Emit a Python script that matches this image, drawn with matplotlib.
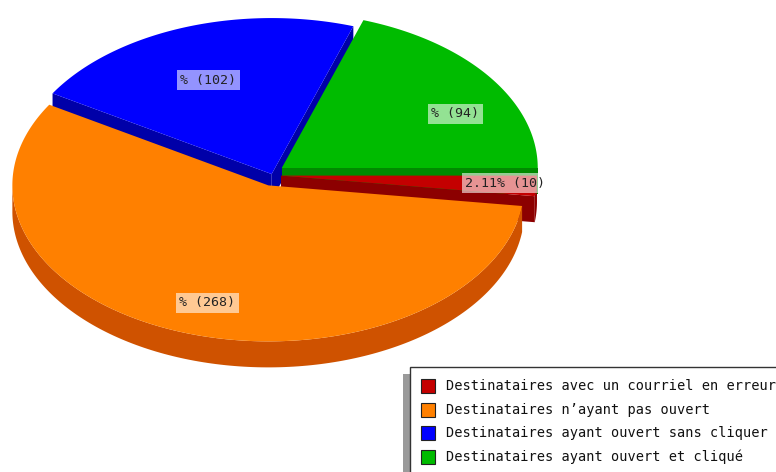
import numpy as np
import matplotlib.pyplot as plt
from matplotlib.patches import Polygon, Rectangle

# ---------------------------------------------------------------
# Data
# ---------------------------------------------------------------
legend_labels = ['Destinataires avec un courriel en erreur',
                 "Destinataires n\u2019ayant pas ouvert",
                 'Destinataires ayant ouvert sans cliquer',
                 'Destinataires ayant ouvert et cliqu\u00e9']
values = [10, 268, 102, 94]
slice_labels = ['2.11% (10)', '% (268)', '% (102)', '% (94)']

# ---------------------------------------------------------------
# Style / geometry (pixel space)
# ---------------------------------------------------------------
top_colors = ['#C40000', '#FF8000', '#0000FF', '#00BB00']
side_colors = ['#8C0000', '#CF5200', '#0000A8', '#008A00']
explode = [9, 11, 1, 12]     # explode distance per slice (px)
cx, cy = 272, 175            # pie centre
rx, ry = 256, 156            # ellipse radii
depth = 26                   # pie thickness
label_frac = 0.72
label_dy = 5
mono = 'DejaVu Sans Mono'

fig = plt.figure(figsize=(7.76, 4.72), dpi=100)
ax = fig.add_axes([0, 0, 1, 1])
ax.set_xlim(0, 776)
ax.set_ylim(472, 0)
ax.axis('off')


def pt(x0, y0, th):
    return x0 + rx * np.cos(th), y0 - ry * np.sin(th)


total = float(sum(values))
slices = []
a = 0.0
for i, v in enumerate(values):
    span = 2 * np.pi * v / total
    a_start, a_end = a, a - span   # clockwise
    bis = (a_start + a_end) / 2
    ox = cx + explode[i] * np.cos(bis)
    oy = cy - explode[i] * np.sin(bis)
    slices.append((i, a_start, a_end, bis, ox, oy))
    a = a_end

# back slices first
order = sorted(slices, key=lambda s: -np.sin(s[3]))

for i, a_start, a_end, bis, ox, oy in order:
    th = np.linspace(a_end, a_start, 200)
    # outer rim (front half only)
    th_front = th[np.sin(th) <= 1e-9]
    if len(th_front) > 1:
        xs, ys = pt(ox, oy, th_front)
        poly = np.column_stack([np.r_[xs, xs[::-1]], np.r_[ys, ys[::-1] + depth]])
        ax.add_patch(Polygon(poly, closed=True, fc=side_colors[i], ec='none'))
    # radial faces that look towards the viewer
    for edge, vis in ((a_start, np.cos(a_start) < 0), (a_end, np.cos(a_end) > 0)):
        if vis:
            ex, ey = pt(ox, oy, edge)
            poly = [(ox, oy), (ex, ey), (ex, ey + depth), (ox, oy + depth)]
            ax.add_patch(Polygon(poly, closed=True, fc=side_colors[i], ec='none'))
    # top face
    xs, ys = pt(ox, oy, th)
    poly = np.column_stack([np.r_[ox, xs], np.r_[oy, ys]])
    ax.add_patch(Polygon(poly, closed=True, fc=top_colors[i], ec='none'))

# slice labels
for i, a_start, a_end, bis, ox, oy in slices:
    lx = ox + label_frac * rx * np.cos(bis)
    ly = oy - label_frac * ry * np.sin(bis)
    ha = 'left' if np.cos(bis) > 0.5 else 'center'
    if abs(np.sin(bis)) < 0.3:
        va = 'center'
    else:
        va = 'top'
        ly += label_dy
    ax.text(lx, ly, slice_labels[i], ha=ha, va=va, family=mono, fontsize=9.5,
            color='#222222',
            bbox=dict(boxstyle='square,pad=0.25', fc='white', ec='none', alpha=0.58))

# ---------------------------------------------------------------
# Legend (partly off-canvas, as in the original)
# ---------------------------------------------------------------
ax.add_patch(Rectangle((403, 374), 400, 130, fc='#9a9a9a', ec='none'))
ax.add_patch(Rectangle((410, 367), 400, 130, fc='white', ec='#333333', lw=1.0))
for k, lab in enumerate(legend_labels):
    yy = 386 + k * 23.7
    ax.add_patch(Rectangle((421, yy - 7), 14, 14, fc=top_colors[k], ec='#222222', lw=0.8))
    ax.text(446, yy, lab, ha='left', va='center', family=mono, fontsize=9.8, color='#111111')

fig.savefig('out.png', dpi=100)
